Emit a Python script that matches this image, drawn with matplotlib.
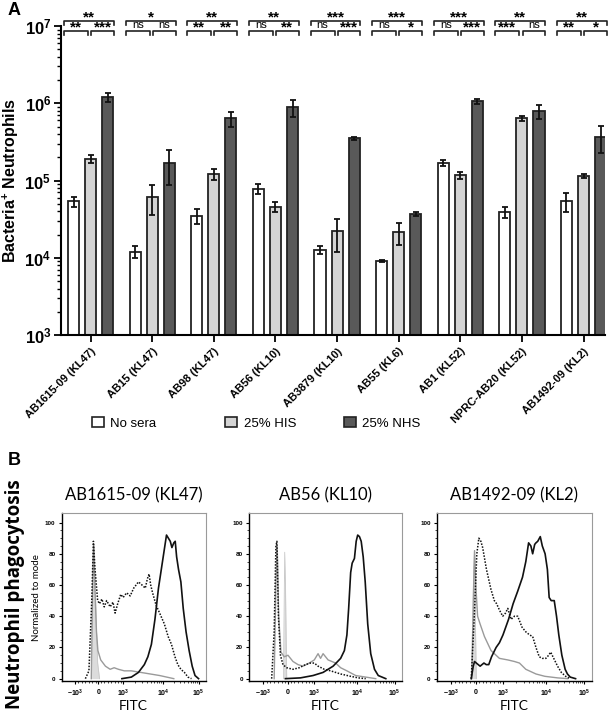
import numpy as np
import matplotlib
matplotlib.use("Agg")
import matplotlib.pyplot as plt
from matplotlib.patches import Patch
import matplotlib.transforms as mtransforms

plt.rcParams['font.family'] = ['Liberation Sans', 'DejaVu Sans']
plt.rcParams['mathtext.fontset'] = 'custom'
plt.rcParams['mathtext.rm'] = 'Liberation Sans'
plt.rcParams['mathtext.bf'] = 'Liberation Sans:bold'

# ---- panel A data ----
strains = ["AB1615-09 (KL47)", "AB15 (KL47)", "AB98 (KL47)", "AB56 (KL10)",
           "AB3879 (KL10)", "AB55 (KL6)", "AB1 (KL52)", "NPRC-AB20 (KL52)",
           "AB1492-09 (KL2)"]
groups = ["No sera", "25% HIS", "25% NHS"]
no_sera = [5.4e4, 1.2e4, 3.5e4, 7.8e4, 1.26e4, 9.1e3, 1.68e5, 3.9e4, 5.4e4]
no_sera_err = [8e3, 2e3, 8e3, 1.2e4, 1.5e3, 3e2, 1.5e4, 6e3, 1.5e4]
his = [1.9e5, 6.2e4, 1.21e5, 4.6e4, 2.2e4, 2.15e4, 1.18e5, 6.4e5, 1.14e5]
his_err = [2.2e4, 2.6e4, 2e4, 7e3, 1e4, 7e3, 1.2e4, 5e4, 7e3]
nhs = [1.2e6, 1.68e5, 6.4e5, 8.9e5, 3.5e5, 3.7e4, 1.07e6, 7.9e5, 3.65e5]
nhs_err = [1.7e5, 8e4, 1.4e5, 2.2e5, 2e4, 2.5e3, 8e4, 1.6e5, 1.4e5]
sig_top = ["**", "*", "**", "**", "***", "***", "***", "**", "**"]
sig_left = ["**", "ns", "**", "ns", "ns", "ns", "ns", "***", "**"]
sig_right = ["***", "ns", "**", "**", "***", "*", "***", "ns", "*"]

# ---- panel B data (flow histograms, x in display channel units) ----
xtick_pos = [0.0, 1.0, 2.05, 3.75, 5.25]
xtick_lab = [r'$\mathbf{-10^{3}}$', r'$\mathbf{0}$', r'$\mathbf{10^{3}}$',
             r'$\mathbf{10^{4}}$', r'$\mathbf{10^{5}}$']

p1_title = "AB1615-09 (KL47)"
p1_dot_x = [0.45, 0.6, 0.72, 0.79, 0.86, 0.97, 1.05, 1.15, 1.25, 1.35, 1.5, 1.62, 1.71, 1.82,
            1.95, 2.05, 2.2, 2.35, 2.5, 2.7, 2.85, 2.99, 3.08, 3.15, 3.22, 3.3, 3.45, 3.6,
            3.8, 3.96, 4.1, 4.25, 4.37, 4.5, 4.65, 4.8, 4.95]
p1_dot_y = [0, 5, 50, 88, 70, 50, 48, 51, 46, 50, 46, 49, 42, 48, 54, 52, 55, 53, 58, 62, 60,
            58, 64, 67, 60, 55, 47, 42, 35, 27, 22, 14, 9, 6, 4, 1, 0]
p1_sol_x = [2.0, 2.4, 2.7, 2.95, 3.1, 3.25, 3.4, 3.55, 3.7, 3.82, 3.89, 3.97, 4.05, 4.12, 4.2,
            4.26, 4.32, 4.4, 4.5, 4.6, 4.72, 4.85, 4.98, 5.1, 5.25]
p1_sol_y = [0, 1, 4, 9, 14, 22, 38, 58, 73, 85, 92, 90, 88, 84, 87, 88, 78, 70, 62, 45, 30, 18,
            8, 2, 0]
p1_gry_x = [0.7, 0.76, 0.8, 0.86, 0.92, 0.98, 1.1, 1.3, 1.5, 1.67, 1.85, 2.1, 2.4, 2.8, 3.2,
            3.6, 3.9, 4.2]
p1_gry_y = [0, 60, 86, 55, 30, 18, 12, 8, 6, 7, 6, 5, 5, 4, 3, 2, 1, 0]
p1_fill_x = [0.72, 0.78, 0.82, 0.9, 0.97, 1.05]
p1_fill_y = [0, 80, 85, 40, 10, 0]

p2_title = "AB56 (KL10)"
p2_dot_x = [0.35, 0.45, 0.52, 0.56, 0.62, 0.7, 0.8, 0.95, 1.2, 1.45, 1.7, 1.9, 2.05, 2.2, 2.45,
            2.7, 3.1, 3.5, 3.8, 4.1]
p2_dot_y = [0, 30, 85, 88, 40, 15, 9, 7, 6, 7, 9, 10, 10, 8, 6, 5, 3, 1.5, 0.5, 0]
p2_sol_x = [0.9, 1.5, 2.0, 2.4, 2.8, 3.1, 3.25, 3.35, 3.42, 3.5, 3.56, 3.65, 3.72, 3.78, 3.85,
            3.92, 4.0, 4.08, 4.18, 4.3, 4.45, 4.6, 4.9]
p2_sol_y = [0, 0.5, 2, 4, 8, 13, 18, 28, 45, 68, 74, 77, 88, 92, 91, 88, 78, 62, 35, 16, 6, 2, 0]
p2_gry_x = [0.45, 0.52, 0.57, 0.63, 0.72, 0.85, 1.0, 1.2, 1.4, 1.6, 1.85, 2.05, 2.2, 2.3, 2.4,
            2.5, 2.6, 2.75, 2.9, 3.1, 3.35, 3.7, 4.1, 4.5]
p2_gry_y = [0, 60, 85, 40, 17, 14, 15, 11, 9, 8, 10, 12, 16, 13, 16, 14, 12, 11, 10, 7, 5, 2,
            1, 0]
p2_fill_x = [0.82, 0.87, 0.9, 0.95]
p2_fill_y = [0, 81, 60, 0]

p3_title = "AB1492-09 (KL2)"
p3_dot_x = [0.8, 0.92, 1.02, 1.1, 1.18, 1.25, 1.4, 1.58, 1.71, 1.8, 1.91, 2.04, 2.15, 2.24,
            2.37, 2.5, 2.63, 2.8, 2.95, 3.1, 3.22, 3.35, 3.48, 3.6, 3.74, 3.85, 3.93, 4.05,
            4.2, 4.35, 4.52, 4.7]
p3_dot_y = [0, 40, 80, 90, 88, 84, 70, 57, 50, 48, 44, 40, 42, 45, 38, 40, 40, 33, 30, 28, 27,
            20, 14, 13, 13, 15, 17, 13, 8, 4, 1.5, 0]
p3_sol_x = [0.8, 0.88, 0.93, 1.0, 1.15, 1.3, 1.39, 1.49, 1.6, 1.78, 1.91, 2.05, 2.27, 2.45,
            2.63, 2.82, 2.95, 3.06, 3.15, 3.22, 3.3, 3.35, 3.42, 3.52, 3.6, 3.71, 3.8, 3.87,
            3.95, 4.07, 4.16, 4.25, 4.37, 4.5, 4.59, 4.7, 4.91]
p3_sol_y = [0, 8, 11, 10, 8, 10, 9, 9, 14, 20, 23, 28, 38, 48, 56, 65, 75, 87, 85, 80, 86, 87,
            88, 91, 85, 80, 70, 52, 50, 50, 40, 28, 15, 6, 3, 1, 0]
p3_gry_x = [0.82, 0.88, 0.93, 0.98, 1.05, 1.15, 1.32, 1.58, 1.91, 2.24, 2.5, 2.7, 2.95, 3.35,
            3.7, 4.2, 4.6]
p3_gry_y = [0, 50, 82, 60, 40, 35, 27, 18, 13, 12, 11, 10, 6, 3, 1.5, 0.5, 0]
p3_fill_x = [0.86, 0.9, 0.93, 0.97, 1.0]
p3_fill_y = [0, 70, 82, 30, 0]

fig = plt.figure(figsize=(6.12, 7.11), dpi=100)

# ================= panel A =================
ax = fig.add_axes([0.0997, 0.5288, 0.889, 0.4346])
x = np.arange(len(strains))
off = 0.277
w = 0.18
ekw = dict(ecolor='#111111', elinewidth=1.3, capsize=2.5, capthick=1.3)
ax.bar(x - off, no_sera, w, yerr=no_sera_err, color='white', edgecolor='#222222', lw=1.3,
       error_kw=ekw, label=groups[0])
ax.bar(x, his, w, yerr=his_err, color='#d4d4d4', edgecolor='#222222', lw=1.3,
       error_kw=ekw, label=groups[1])
ax.bar(x + off, nhs, w, yerr=nhs_err, color='#595959', edgecolor='#222222', lw=1.3,
       error_kw=ekw, label=groups[2])
ax.set_yscale('log')
ax.set_ylim(1e3, 1e7)
ax.set_xlim(-0.48, 8.35)
ax.set_yticks([1e3, 1e4, 1e5, 1e6, 1e7])
ax.set_yticklabels([r'$\mathbf{10^{%d}}$' % k for k in range(3, 8)], fontsize=12)
ax.set_xticks(x)
ax.set_xticklabels(strains, rotation=45, ha='right', rotation_mode='anchor',
                   fontsize=8, fontweight='bold')
ax.tick_params(axis='both', which='major', width=1.3, length=5)
ax.tick_params(axis='y', which='minor', width=1.0, length=3)
ax.tick_params(axis='x', pad=3)
ax.tick_params(axis='y', pad=2)
for s in ['top', 'right']:
    ax.spines[s].set_visible(False)
for s in ['left', 'bottom']:
    ax.spines[s].set_linewidth(1.5)
ax.set_ylabel(r'Bacteria$^{\mathbf{+}}$ Neutrophils', fontsize=11.5, fontweight='bold',
              labelpad=2)

trans = mtransforms.blended_transform_factory(ax.transData, ax.transAxes)


def bracket(x0, x1, y, label):
    tk = 0.014
    ax.plot([x0, x0, x1, x1], [y - tk, y, y, y - tk], color='#222222', lw=1.2,
            transform=trans, clip_on=False)
    if '*' in label:
        ax.text((x0 + x1) / 2, y - 0.012, label, transform=trans, ha='center', va='bottom',
                fontsize=11, fontweight='bold', clip_on=False)
    else:
        ax.text((x0 + x1) / 2, y + 0.001, label, transform=trans, ha='center', va='bottom',
                fontsize=8, clip_on=False)


for i in range(len(strains)):
    bracket(i - 0.43, i + 0.38, 1.017, sig_top[i])
    bracket(i - 0.43, i - 0.04, 0.985, sig_left[i])
    bracket(i + 0.01, i + 0.38, 0.985, sig_right[i])

legend_colors = ['white', '#d4d4d4', '#595959']
legend_x = [0.150, 0.368, 0.562]
for lab, col, lx in zip(groups, legend_colors, legend_x):
    fig.legend([Patch(facecolor=col, edgecolor='#222222', lw=1.2)], [lab], loc='center left',
               bbox_to_anchor=(lx, 0.405), frameon=False, fontsize=9.5, handlelength=0.9,
               handleheight=0.9, handletextpad=0.5, borderaxespad=0, borderpad=0)

fig.text(0.012, 0.985, "A", fontsize=13, fontweight='bold', va='center')
fig.text(0.012, 0.353, "B", fontsize=13, fontweight='bold', va='center')

# ================= panel B =================
fig.text(0.024, 0.164, "Neutrophil phagocytosis", rotation=90, fontsize=13.5,
         fontweight='bold', ha='center', va='center', family=['Open Sans', 'DejaVu Sans'])

panels = [
    (p1_title, p1_dot_x, p1_dot_y, p1_sol_x, p1_sol_y, p1_gry_x, p1_gry_y, p1_fill_x, p1_fill_y),
    (p2_title, p2_dot_x, p2_dot_y, p2_sol_x, p2_sol_y, p2_gry_x, p2_gry_y, p2_fill_x, p2_fill_y),
    (p3_title, p3_dot_x, p3_dot_y, p3_sol_x, p3_sol_y, p3_gry_x, p3_gry_y, p3_fill_x, p3_fill_y),
]
lefts = [0.101, 0.407, 0.714]
widths = [0.235, 0.25, 0.253]
minor_pos = []
for d in range(2, 10):
    minor_pos.append(2.05 + np.log10(d) * 1.7)
    minor_pos.append(3.75 + np.log10(d) * 1.5)
for d in [0.15, 0.3, 0.45, 0.6, 0.75, 0.9, 1.12, 1.25, 1.4, 1.55, 1.7, 1.85, 1.95]:
    minor_pos.append(d)

for k, (title, dx, dy, sx, sy, gx, gy, fx, fy) in enumerate(panels):
    a = fig.add_axes([lefts[k], 0.0422, widths[k], 0.236])
    a.fill_between(fx, fy, color='#dcdcdc', lw=0)
    a.plot(fx, fy, color='#c8c8c8', lw=0.6)
    a.plot(gx, gy, color='#9a9a9a', lw=1.0)
    a.plot(dx, dy, color='#111111', lw=1.1, ls=(0, (1, 1)))
    a.plot(sx, sy, color='#111111', lw=1.2)
    a.set_xlim(-0.55, 5.55)
    a.set_ylim(-1.5, 106)
    a.set_xticks(xtick_pos)
    a.set_xticklabels(xtick_lab, fontsize=5)
    a.set_xticks(minor_pos, minor=True)
    a.set_yticks([0, 20, 40, 60, 80, 100])
    a.set_yticklabels(['0', '20', '40', '60', '80', '100'], fontsize=4.5, fontweight='bold')
    a.set_yticks(np.arange(0, 101, 5), minor=True)
    a.tick_params(axis='both', which='major', length=2.5, width=0.8, pad=2)
    a.tick_params(axis='both', which='minor', length=1.3, width=0.5)
    for s in ['top', 'right']:
        a.spines[s].set_color('#9a9a9a')
        a.spines[s].set_linewidth(0.8)
    for s in ['left', 'bottom']:
        a.spines[s].set_linewidth(1.0)
    a.set_title(title, fontsize=12, pad=9, family=['Lato', 'DejaVu Sans'])
    a.set_xlabel("FITC", fontsize=10, labelpad=1, family=['Lato', 'DejaVu Sans'])
    if k == 0:
        a.set_ylabel("Normalized to mode", fontsize=7, labelpad=3,
                     family=['Lato', 'DejaVu Sans'])

fig.savefig("out.png", dpi=100)
